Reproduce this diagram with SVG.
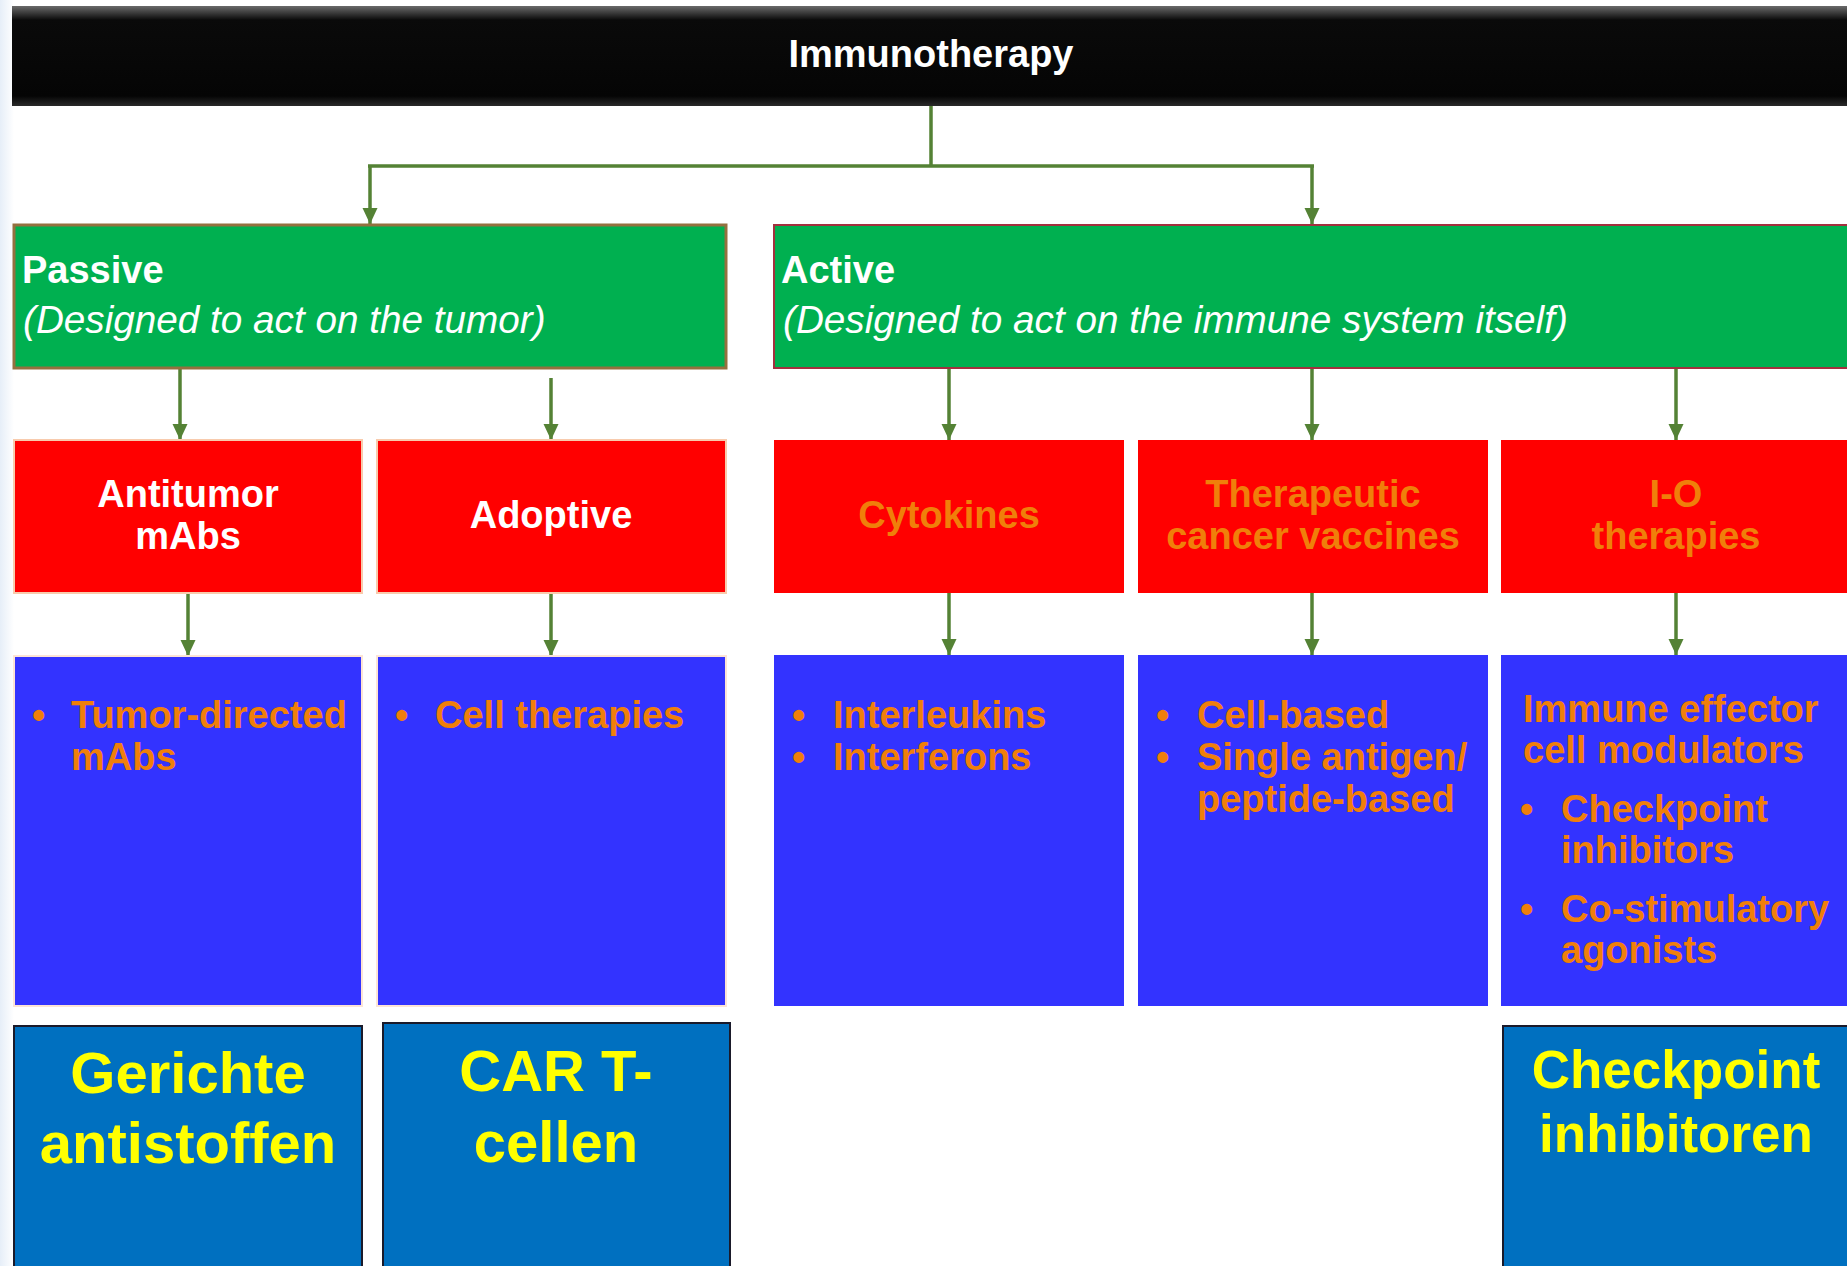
<svg xmlns="http://www.w3.org/2000/svg" width="1847" height="1266" viewBox="0 0 1847 1266">
<defs>
<linearGradient id="barGrad" x1="0" y1="0" x2="0" y2="1">
<stop offset="0" stop-color="#6a6a6a"/>
<stop offset="0.14" stop-color="#0a0a0a"/>
<stop offset="0.9" stop-color="#050505"/>
<stop offset="1" stop-color="#2a2a2a"/>
</linearGradient>
<linearGradient id="edgeGrad" x1="0" y1="0" x2="1" y2="0">
<stop offset="0" stop-color="#e6eef8"/>
<stop offset="1" stop-color="#ffffff"/>
</linearGradient>
<marker id="arrow" markerUnits="userSpaceOnUse" markerWidth="16" markerHeight="16" viewBox="0 0 16 15" refX="16" refY="7.5" orient="auto">
<path d="M0,0 L16,7.5 L0,15 z" fill="#548235"/>
</marker>
<style>
.t{font-family:"Liberation Sans",Arial,sans-serif;font-weight:bold;font-size:38px}
.w{fill:#ffffff}
.o{fill:#F07F0A}
.y{fill:#FFFF00;font-size:58px}
.y2{fill:#FFFF00;font-size:53px}
.it{font-family:"Liberation Sans",Arial,sans-serif;font-style:italic;font-size:38.7px;fill:#ffffff}
.mid{text-anchor:middle}
.red{fill:#FF0000}
.blue{fill:#3333FF}
.dk{fill:#0070C0;stroke:#1a1a2a;stroke-width:2}
.conn{fill:none;stroke:#548235;stroke-width:3.5}
</style>
</defs>
<rect width="1847" height="1266" fill="#ffffff"/>
<rect x="0" y="0" width="14" height="1266" fill="url(#edgeGrad)"/>

<g id="connectors">
<path class="conn" d="M931,106 V166 M368,166 H1314"/>
<path class="conn" d="M370,166 V224" marker-end="url(#arrow)"/>
<path class="conn" d="M1312,166 V224" marker-end="url(#arrow)"/>
<path class="conn" d="M180,369 V440" marker-end="url(#arrow)"/>
<path class="conn" d="M551,378 V440" marker-end="url(#arrow)"/>
<path class="conn" d="M949,369 V440" marker-end="url(#arrow)"/>
<path class="conn" d="M1312,369 V440" marker-end="url(#arrow)"/>
<path class="conn" d="M1676,369 V440" marker-end="url(#arrow)"/>
<path class="conn" d="M188,593 V656" marker-end="url(#arrow)"/>
<path class="conn" d="M551,593 V656" marker-end="url(#arrow)"/>
<path class="conn" d="M949,593 V655" marker-end="url(#arrow)"/>
<path class="conn" d="M1312,593 V655" marker-end="url(#arrow)"/>
<path class="conn" d="M1676,593 V655" marker-end="url(#arrow)"/>
</g>

<g id="immunotherapy">
<rect x="12" y="6" width="1840" height="100" fill="url(#barGrad)"/>
<text class="t w mid" x="931" y="67">Immunotherapy</text>
</g>

<g id="passive">
<rect x="14" y="225" width="712" height="143" fill="#00B050" stroke="#94703F" stroke-width="3"/>
<text class="t w" x="22" y="283">Passive</text>
<text class="it" x="23" y="333">(Designed to act on the tumor)</text>
</g>

<g id="active">
<rect x="774" y="225" width="1080" height="143" fill="#00B050" stroke="#A3303E" stroke-width="2"/>
<text class="t w" x="781" y="283">Active</text>
<text class="it" x="783" y="333">(Designed to act on the immune system itself)</text>
</g>

<g id="antitumor">
<rect x="14" y="440" width="348" height="153" class="red" stroke="#F8CBAD" stroke-width="2"/>
<text class="t w mid" x="188" y="507">Antitumor</text>
<text class="t w mid" x="188" y="549">mAbs</text>
</g>

<g id="adoptive">
<rect x="377" y="440" width="349" height="153" class="red" stroke="#F8CBAD" stroke-width="2"/>
<text class="t w mid" x="551" y="528">Adoptive</text>
</g>

<g id="cytokines">
<rect x="774" y="440" width="350" height="153" class="red"/>
<text class="t o mid" x="949" y="528">Cytokines</text>
</g>

<g id="vaccines">
<rect x="1138" y="440" width="350" height="153" class="red"/>
<text class="t o mid" x="1313" y="507">Therapeutic</text>
<text class="t o mid" x="1313" y="549">cancer vaccines</text>
</g>

<g id="io">
<rect x="1501" y="440" width="350" height="153" class="red"/>
<text class="t o mid" x="1676" y="507">I-O</text>
<text class="t o mid" x="1676" y="549">therapies</text>
</g>

<g id="tumor-directed">
<rect x="14" y="656" width="348" height="350" class="blue" stroke="#FCE4D6" stroke-width="2"/>
<text class="t o" x="32" y="728">•</text>
<text class="t o" x="71" y="728">Tumor-directed</text>
<text class="t o" x="71" y="770">mAbs</text>
</g>

<g id="cell-therapies">
<rect x="377" y="656" width="349" height="350" class="blue" stroke="#FCE4D6" stroke-width="2"/>
<text class="t o" x="395" y="728">•</text>
<text class="t o" x="435" y="728">Cell therapies</text>
</g>

<g id="interleukins">
<rect x="774" y="655" width="350" height="351" class="blue"/>
<text class="t o" x="792" y="728">•</text>
<text class="t o" x="833" y="728">Interleukins</text>
<text class="t o" x="792" y="770">•</text>
<text class="t o" x="833" y="770">Interferons</text>
</g>

<g id="cell-based">
<rect x="1138" y="655" width="350" height="351" class="blue"/>
<text class="t o" x="1156" y="728">•</text>
<text class="t o" x="1197" y="728">Cell-based</text>
<text class="t o" x="1156" y="770">•</text>
<text class="t o" x="1197" y="770">Single antigen/</text>
<text class="t o" x="1197" y="812">peptide-based</text>
</g>

<g id="immune-effector">
<rect x="1501" y="655" width="350" height="351" class="blue"/>
<text class="t o" x="1523" y="722">Immune effector</text>
<text class="t o" x="1523" y="763">cell modulators</text>
<text class="t o" x="1520" y="822">•</text>
<text class="t o" x="1561" y="822">Checkpoint</text>
<text class="t o" x="1561" y="863">inhibitors</text>
<text class="t o" x="1520" y="922">•</text>
<text class="t o" x="1561" y="922">Co-stimulatory</text>
<text class="t o" x="1561" y="963">agonists</text>
</g>

<g id="gerichte">
<rect x="14" y="1026" width="348" height="250" class="dk"/>
<text class="t y mid" x="188" y="1093">Gerichte</text>
<text class="t y mid" x="188" y="1163">antistoffen</text>
</g>

<g id="car-t">
<rect x="383" y="1023" width="347" height="253" class="dk"/>
<text class="t y mid" x="556" y="1091">CAR T-</text>
<text class="t y mid" x="556" y="1162">cellen</text>
</g>

<g id="checkpoint">
<rect x="1503" y="1026" width="350" height="250" class="dk"/>
<text class="t y2 mid" x="1676" y="1088">Checkpoint</text>
<text class="t y2 mid" x="1676" y="1152">inhibitoren</text>
</g>
</svg>
